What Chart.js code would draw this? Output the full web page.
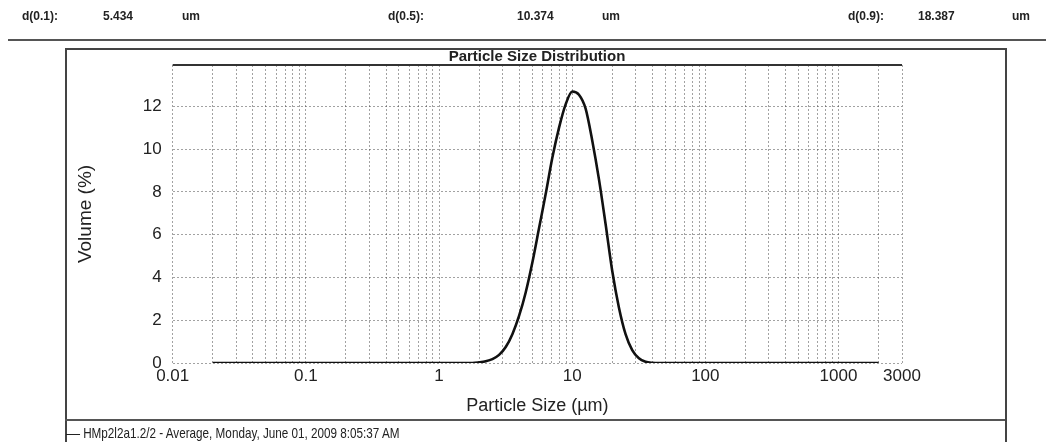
<!DOCTYPE html>
<html>
<head>
<meta charset="utf-8">
<script src="https://cdn.jsdelivr.net/npm/chart.js@4.4.0/dist/chart.umd.min.js"></script>
<style>
  html, body { margin: 0; padding: 0; background: #fff; }
  #wrap { position: relative; width: 1046px; height: 442px; overflow: hidden;
          font-family: "Liberation Sans", Arial, sans-serif; color: #222; }
  #chart { position: absolute; left: 0; top: 0; }
  .hd { position: absolute; top: 9px; font-size: 12px; font-weight: bold; white-space: nowrap; }
  #rule { position: absolute; left: 8px; right: 0; top: 39px; border-top: 2px solid #555; }
  #frame { position: absolute; left: 65px; top: 48px; width: 938px; height: 420px; border: 2px solid #444; }
  #sep { position: absolute; left: 65px; width: 940px; top: 419px; border-top: 2px solid #555; }
  #title { position: absolute; left: 172px; width: 730px; top: 47px; text-align: center;
           font-size: 15px; font-weight: bold; line-height: 17px; }
  #legend { position: absolute; left: 66px; top: 424px; font-size: 15px; line-height: 17px;
            white-space: nowrap; transform: scaleX(0.78); transform-origin: 0 50%; }
  #legend .swatch { display: inline-block; width: 18px; border-top: 1.5px solid #222; vertical-align: middle; margin-right: 4px; }
</style>
</head>
<body>
<div id="wrap">
  <canvas id="chart" width="1046" height="442"></canvas>
  <div id="rule"></div>
  <div id="frame"></div>
  <div id="sep"></div>
  <div id="title">Particle Size Distribution</div>
  <div id="legend"><span class="swatch"></span><span id="legendText"></span></div>
</div>
<script>
// Summary percentiles shown in the header row
const percentileNames = ["d(0.1):", "d(0.5):", "d(0.9):"];
const percentileValues = ["5.434", "10.374", "18.387"];
const percentileUnit = "um";

// Size classes (µm) and volume fraction (%) of the averaged measurement
const sizes = [0.02, 0.05, 0.1, 0.2, 0.5, 1.0, 1.589, 1.783, 2.000, 2.244, 2.518, 2.825,
               3.170, 3.557, 3.991, 4.477, 5.024, 5.637, 6.325, 7.096, 7.962, 8.934,
               10.024, 11.247, 12.619, 14.159, 15.887, 17.825, 20.000, 22.440, 25.179,
               28.251, 31.698, 35.566, 39.905, 44.774, 100, 200, 500, 1000, 2000];
const volumes = [0, 0, 0, 0, 0, 0, 0, 0, 0.03, 0.08, 0.18, 0.38,
                 0.75, 1.35, 2.2, 3.3, 4.7, 6.3, 7.9, 9.6, 11.0, 12.1,
                 12.7, 12.55, 11.9, 10.4, 8.6, 6.5, 4.3, 2.6, 1.35,
                 0.6, 0.22, 0.06, 0.01, 0, 0, 0, 0, 0, 0];

// Axis ranges and labelled ticks
const xMin = 0.01, xMax = 3000;
const xLabelTicks = [0.01, 0.1, 1, 10, 100, 1000, 3000];
const yMax = 13.94;
const yTicks = [0, 2, 4, 6, 8, 10, 12];
const seriesName = "HMp2l2a1.2/2 - Average, Monday, June 01, 2009 8:05:37 AM";

// Header row
const hdPos = [[22, 103, 182], [388, 517, 602], [848, 918, 1012]];
const wrap = document.getElementById("wrap");
percentileNames.forEach((n, i) => {
  [n, percentileValues[i], percentileUnit].forEach((t, j) => {
    const s = document.createElement("div");
    s.className = "hd";
    s.style.left = hdPos[i][j] + "px";
    s.textContent = t;
    wrap.appendChild(s);
  });
});
document.getElementById("legendText").textContent = seriesName;

// Log-grid positions: 1..9 per decade, plus the axis end
function logGrid() {
  const out = [];
  for (let e = -2; e <= 3; e++) {
    for (let m = 1; m <= 9; m++) {
      const v = +(m * Math.pow(10, e)).toPrecision(3);
      if (v >= xMin && v < xMax) out.push({ value: v });
    }
  }
  out.push({ value: xMax });
  return out;
}

const plotFrameTop = {
  id: "plotFrameTop",
  afterDraw(chart) {
    const { ctx, chartArea: a } = chart;
    ctx.save();
    ctx.strokeStyle = "#333";
    ctx.lineWidth = 2;
    ctx.beginPath();
    ctx.moveTo(a.left, a.top);
    ctx.lineTo(a.right, a.top);
    ctx.stroke();
    ctx.restore();
  }
};

const fam = "'Liberation Sans', Arial, sans-serif";
const tickFont = { family: fam, size: 17 };
const gridStyle = { color: "rgba(70,70,70,0.5)", lineWidth: 1, drawTicks: false };

new Chart(document.getElementById("chart"), {
  type: "line",
  data: {
    datasets: [{
      label: seriesName,
      data: sizes.map((s, i) => ({ x: s, y: volumes[i] })),
      borderColor: "#111",
      borderWidth: 2.6,
      pointRadius: 0,
      cubicInterpolationMode: "monotone",
      fill: false
    }]
  },
  options: {
    responsive: false,
    animation: false,
    layout: { padding: { left: 60, right: 144, top: 65, bottom: 25 } },
    plugins: { legend: { display: false }, title: { display: false }, tooltip: { enabled: false } },
    scales: {
      x: {
        type: "logarithmic",
        min: xMin, max: xMax,
        afterBuildTicks: s => { s.ticks = logGrid(); },
        afterFit: s => { s.height = 54; },
        grid: gridStyle,
        border: { display: false, dash: [2, 2] },
        ticks: {
          autoSkip: false, maxRotation: 0, padding: 3, color: "#222", font: tickFont,
          callback: v => xLabelTicks.includes(v) ? String(v) : ""
        },
        title: { display: true, text: "Particle Size (µm)", color: "#222",
                 font: { family: fam, size: 18 },
                 padding: { top: 0, bottom: 0 } }
      },
      y: {
        min: 0, max: yMax,
        afterBuildTicks: s => { s.ticks = yTicks.map(v => ({ value: v })); },
        afterFit: s => { s.width = 112.7; },
        grid: gridStyle,
        border: { display: false, dash: [2, 2] },
        ticks: { padding: 11, color: "#222", font: tickFont },
        title: { display: true, text: "Volume (%)", color: "#222",
                 font: { family: fam, size: 19 },
                 padding: { top: 14, bottom: 0 } }
      }
    }
  },
  plugins: [plotFrameTop]
});
</script>
</body>
</html>
